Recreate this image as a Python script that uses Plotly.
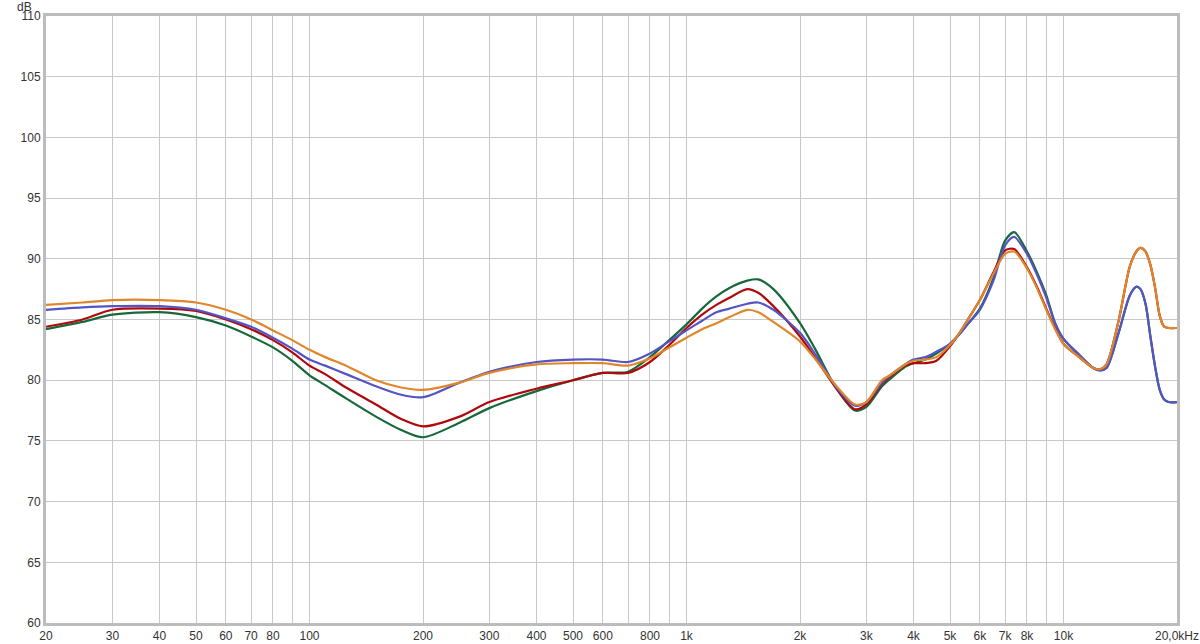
import numpy as np
import plotly.graph_objects as go

freq = [20, 25, 30, 40, 50, 60, 70, 80, 90, 100, 110, 125, 150, 175, 200, 250, 300, 400, 500,
        600, 700, 800, 900, 1000, 1100, 1200, 1300, 1450, 1550, 1700, 2000, 2200, 2500, 2800,
        3000, 3300, 3500, 3800, 4000, 4300, 4600, 5000, 5300, 5600, 6000, 6500, 7000, 7400,
        8000, 8500, 9000, 9500, 10000, 11000, 12000, 12500, 13000, 14000, 15000, 15600, 16000,
        16500, 17000, 17500, 18000, 18500, 19000, 20000]

green = [84.2, 84.8, 85.4, 85.6, 85.2, 84.5, 83.6, 82.7, 81.6, 80.4, 79.6, 78.5, 77.0, 75.9, 75.3,
         76.5, 77.7, 79.1, 80.0, 80.6, 80.7, 81.9, 83.3, 84.6, 85.9, 86.9, 87.6, 88.2, 88.3, 87.5,
         84.7, 82.5, 79.3, 77.5, 77.8, 79.5, 80.2, 81.1, 81.4, 81.7, 82.2, 83.0, 83.8, 84.7, 85.9,
         88.3, 91.5, 92.2, 90.6, 88.9, 87.0, 84.7, 83.4, 82.1, 81.0, 80.8, 81.0, 83.9, 87.0, 87.7,
         87.5, 86.3, 83.6, 81.1, 79.2, 78.4, 78.2, 78.2]

red = [84.4, 85.0, 85.8, 85.9, 85.7, 85.0, 84.2, 83.3, 82.3, 81.2, 80.5, 79.4, 78.0, 76.8, 76.2,
       77.0, 78.2, 79.3, 80.0, 80.6, 80.6, 81.5, 82.9, 84.3, 85.4, 86.2, 86.8, 87.5, 87.2, 86.1,
       83.6, 81.8, 79.3, 77.6, 78.0, 79.7, 80.4, 81.2, 81.4, 81.4, 81.6, 82.8, 83.9, 85.1, 86.6,
       88.8, 90.7, 90.8, 89.3, 87.7, 85.9, 84.3, 83.0, 81.9, 81.0, 80.9, 81.3, 84.9, 89.4, 90.6,
       90.9, 90.6, 89.5, 87.6, 85.3, 84.4, 84.3, 84.3]

blue = [85.8, 86.0, 86.1, 86.1, 85.8, 85.1, 84.4, 83.5, 82.6, 81.7, 81.2, 80.5, 79.5, 78.8, 78.6,
        79.8, 80.7, 81.5, 81.7, 81.7, 81.5, 82.2, 83.2, 84.1, 84.9, 85.6, 85.9, 86.3, 86.4, 85.8,
        83.9, 82.1, 79.4, 77.9, 78.2, 79.8, 80.5, 81.3, 81.7, 81.9, 82.35, 83.0, 83.8, 84.7, 85.8,
        88.1, 91.1, 91.8, 90.4, 88.7, 86.8, 84.7, 83.4, 82.1, 81.0, 80.8, 81.0, 83.9, 87.0, 87.7,
        87.5, 86.3, 83.6, 81.1, 79.2, 78.4, 78.2, 78.2]

orange = [86.2, 86.4, 86.6, 86.6, 86.4, 85.8, 85.0, 84.1, 83.3, 82.5, 81.9, 81.2, 80.0, 79.4, 79.2,
          79.8, 80.6, 81.3, 81.4, 81.4, 81.2, 81.8, 82.7, 83.5, 84.2, 84.7, 85.2, 85.8, 85.6, 84.8,
          83.2, 81.7, 79.5, 78.0, 78.2, 80.0, 80.5, 81.3, 81.6, 81.7, 81.9, 82.9, 83.9, 85.1, 86.6,
          88.7, 90.4, 90.6, 89.2, 87.6, 85.8, 84.2, 83.0, 81.9, 81.0, 80.9, 81.3, 84.9, 89.4, 90.6,
          90.9, 90.6, 89.5, 87.6, 85.3, 84.4, 84.3, 84.3]

x_tickvals = [20, 30, 40, 50, 60, 70, 80, 90, 100, 200, 300, 400, 500, 600, 700, 800, 900,
              1000, 2000, 3000, 4000, 5000, 6000, 7000, 8000, 9000, 10000, 20000]
x_ticktext = ["20", "30", "40", "50", "60", "70", "80", "", "100", "200", "300", "400", "500",
              "600", "", "800", "", "1k", "2k", "3k", "4k", "5k", "6k", "7k", "8k", "", "10k",
              "20,0kHz"]
decades = [100, 1000, 10000]
y_tickvals = [60, 65, 70, 75, 80, 85, 90, 95, 100, 105, 110]

series = [
    ("green", green, "#17683a"),
    ("red", red, "#b0080c"),
    ("blue", blue, "#5454c4"),
    ("orange", orange, "#e0862a"),
]

fig = go.Figure()
for name, vals, col in series:
    fig.add_trace(go.Scatter(x=freq, y=vals, mode="lines", name=name,
                             line=dict(color=col, width=2.2, shape="spline", smoothing=0.8),
                             hoverinfo="skip"))

font = dict(family="Liberation Sans, Arial, sans-serif", size=12, color="#333333")
xrange = [np.log10(20), np.log10(20000)]

fig.update_layout(
    width=1200, height=644,
    margin=dict(l=46, r=23, t=16, b=21),
    paper_bgcolor="white", plot_bgcolor="white",
    showlegend=False,
    font=font,
    xaxis=dict(type="log", range=xrange,
               tickvals=x_tickvals, ticktext=x_ticktext, automargin=False,
               showgrid=True, gridcolor="#c8c8c8", gridwidth=1,
               showline=True, linecolor="#bcbcbc", linewidth=3, mirror=True,
               ticks="", zeroline=False, tickfont=font),
    yaxis=dict(range=[60, 110], tickvals=y_tickvals, automargin=False,
               showgrid=True, gridcolor="#c8c8c8", gridwidth=1,
               showline=True, linecolor="#bcbcbc", linewidth=3, mirror=True,
               ticks="", zeroline=False, tickfont=font),
    shapes=[dict(type="line", xref="x", yref="paper", x0=d, x1=d, y0=0, y1=1,
                 line=dict(color="#8a8a8a", width=1), layer="between")
            for d in decades],
    annotations=[dict(text="dB", xref="paper", yref="paper", x=-0.0105, y=1.0,
                      xanchor="right", yanchor="bottom", showarrow=False, font=font,
                      yshift=0)],
)

fig.write_html("out.html", config={"displayModeBar": False},
               post_script="document.body.style.margin='0px';document.body.style.overflow='hidden';")
